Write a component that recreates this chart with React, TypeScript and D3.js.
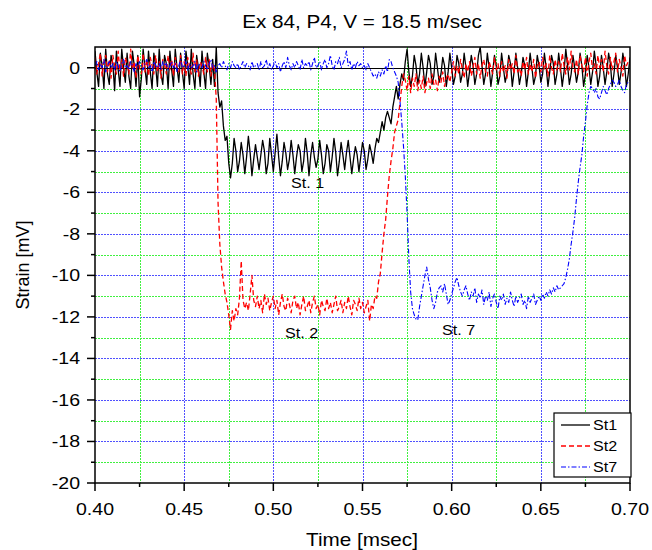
import React from "react";
import * as d3 from "d3";

// time sampling of the recorded traces (msec)
const T0 = 0.4;
const DT = 0.001;

const st1 = [
  0.8,-0.2,-0.9,0.7,0.1,-1.0,0.9,-0.3,-0.8,0.6,0.2,-1.1,
  0.8,-0.1,-0.9,0.9,0.0,-0.7,0.7,-0.4,-1.0,0.8,0.1,-0.9,
  0.6,-1.4,-0.5,0.9,0.0,-0.8,0.8,-0.2,-1.0,0.7,0.1,-0.9,
  0.9,-0.3,-0.8,0.6,0.2,-1.0,0.8,-0.1,-0.9,0.9,0.0,-0.7,
  0.7,-0.2,-1.0,0.8,0.1,-0.8,0.9,-0.3,-1.0,0.6,0.0,-0.9,
  0.8,-0.2,-1.0,0.7,0.1,-0.8,0.4,-0.9,
  1.0,-1.2,-1.9,-1.6,-2.8,-3.5,-3.3,-4.6,
  -5.3,-4.6,-3.4,-4.0,-5.0,-4.5,-3.6,-4.2,-5.1,-4.3,-3.3,-4.1,
  -5.2,-4.4,-3.7,-4.3,-4.9,-4.2,-3.5,-4.0,-5.1,-4.6,-3.4,-4.2,
  -5.0,-4.1,-3.2,-4.3,-5.2,-4.5,-3.6,-4.1,-4.9,-4.4,-3.5,-4.2,
  -5.1,-4.3,-3.7,-4.0,-5.0,-4.5,-3.4,-4.1,-5.2,-4.2,-3.6,-4.3,
  -4.8,-4.4,-3.5,-4.2,-5.1,-4.6,-3.7,-4.0,-5.0,-4.3,-3.4,-4.1,
  -5.2,-4.5,-3.6,-4.2,-4.9,-4.1,-3.5,-4.3,-5.1,-4.4,-3.8,-4.2,
  -5.0,-4.3,-3.6,-4.0,-4.9,-4.4,-3.7,-4.1,
  -4.6,-3.9,-3.4,-3.6,-3.1,-2.6,-3.0,-2.4,-2.1,-2.4,
  -2.7,-1.9,-1.4,-0.9,-1.5,-0.8,-0.3,-0.6,0.3,0.9,
  -0.2,-0.9,-0.4,0.6,0.1,-0.8,-0.3,0.7,0.0,-0.9,-0.2,0.6,
  0.2,-0.8,-0.4,0.7,0.0,-0.7,-0.3,0.5,0.1,-0.9,-0.2,0.7,
  0.0,-0.8,-0.4,0.6,0.2,-0.7,-0.3,0.7,0.0,-0.9,-0.2,0.6,
  0.1,-0.8,-0.3,0.6,1.0,0.1,-0.8,-0.3,0.7,0.0,-0.9,-0.2,
  0.6,0.1,-0.8,-0.4,0.7,0.0,-0.7,-0.3,0.6,0.2,-0.9,-0.2,
  0.7,0.0,-0.8,-0.3,0.5,0.1,-0.9,-0.2,0.7,0.0,-0.8,-0.4,
  0.6,0.1,-0.7,-0.3,0.7,0.0,-0.9,-0.2,0.6,0.2,-0.8,-0.3,
  0.7,0.0,-0.9,-0.2,0.9,0.1,-0.8,-0.3,0.6,0.0,-0.7,-0.2,
  0.7,0.1,-0.9,-0.3,0.6,0.0,-0.8,-0.2,0.8,0.1,-0.9,-0.4,
  0.6,0.0,-0.8,-0.2,0.7,0.2,-0.9,-0.3,0.6,0.0,-0.8,-0.2,
  0.7,0.1,-0.9,-0.3,0.5,
];

const st2 = [
  0.5,-0.3,0.2,0.7,-0.4,0.3,0.6,-0.2,0.4,-0.5,
  0.6,0.1,-0.3,0.8,-0.2,0.4,-0.4,0.5,0.2,-0.3,
  0.9,-0.1,0.3,-0.5,0.6,0.0,-0.3,0.7,-0.2,0.4,
  -0.4,0.5,0.1,-0.3,0.6,-0.2,0.3,-0.5,0.4,0.2,
  -0.3,0.6,-0.1,0.4,-0.4,0.5,0.0,-0.2,0.6,-0.3,
  0.3,-0.4,0.5,0.1,-0.3,0.7,-0.2,0.4,-0.4,0.3,
  0.1,-0.3,0.5,-0.2,0.4,-0.4,0.2,-0.1,
  -1.5,-6.5,-8.5,-9.6,-10.3,-10.9,-11.3,-11.9,
  -12.6,-11.7,-12.2,-11.6,-11.9,-11.1,-9.3,-11.2,-11.6,-11.3,-11.7,-10.9,-10.0,-11.2,
  -11.5,-11.0,-11.6,-11.2,-11.8,-10.9,-11.4,-11.1,-11.7,-11.3,
  -11.0,-11.6,-11.2,-11.9,-11.3,-10.9,-11.5,-11.7,-11.1,-11.4,
  -11.8,-11.2,-11.0,-11.6,-11.3,-11.9,-11.4,-11.0,-11.7,-11.5,
  -11.2,-11.8,-11.3,-11.0,-11.6,-11.4,-11.9,-11.2,-11.5,-11.7,
  -11.1,-11.6,-11.3,-11.8,-11.4,-11.0,-11.7,-11.5,-11.2,-11.8,
  -11.3,-11.6,-11.0,-11.5,-11.9,-11.2,-11.4,-11.7,-11.1,-11.6,
  -11.3,-11.8,-11.5,-11.2,-12.2,-11.4,
  -11.6,-11.0,-11.1,-10.3,-9.9,-8.9,-8.0,-7.3,-6.2,-5.2,
  -4.5,-3.9,-3.1,-2.8,-2.5,-1.7,-0.9,-0.3,-0.6,-1.1,
  -0.4,-1.2,-0.5,-0.9,-0.3,-1.1,-0.6,-1.0,-0.4,-1.2,-0.7,-0.5,
  -1.0,-0.3,-0.8,-0.6,-1.1,-0.4,-0.7,-0.2,-0.9,-0.5,-0.3,-0.7,
  -0.2,0.3,-0.4,0.1,-0.3,0.4,-0.1,-0.5,0.2,-0.2,
  0.3,-0.4,0.0,0.5,-0.3,0.2,-0.5,0.1,0.4,-0.2,
  -0.4,0.3,0.0,-0.3,0.5,-0.1,0.2,-0.4,0.3,-0.2,
  0.1,-0.5,0.4,-0.1,0.2,-0.3,0.6,-0.2,0.0,-0.4,
  0.3,-0.1,0.5,-0.3,0.2,-0.2,0.4,-0.5,0.1,0.3,
  -0.2,0.5,-0.1,0.2,-0.4,0.6,0.0,-0.3,0.4,-0.1,
  0.3,-0.2,0.7,0.1,-0.3,0.5,-0.1,0.8,0.0,-0.2,
  0.4,-0.3,0.6,0.1,-0.2,0.5,-0.4,0.3,0.7,-0.1,
  0.2,-0.3,0.6,0.0,0.4,-0.2,0.8,0.1,-0.3,0.5,
  -0.1,0.3,0.7,-0.2,0.4,0.0,-0.4,0.6,0.1,0.3,0.2,
];

const st7 = [
  0.1,0.3,-0.1,0.2,0.0,0.4,-0.2,0.1,0.3,0.0,
  0.2,-0.1,0.3,0.1,-0.2,0.2,0.4,0.0,0.1,-0.1,
  0.3,0.1,-0.2,0.2,0.0,0.3,0.1,-0.1,0.2,0.4,
  0.0,0.1,-0.2,0.3,0.1,0.0,0.2,-0.1,0.3,0.1,
  0.2,-0.1,0.1,0.3,0.0,0.2,-0.2,0.1,0.4,0.0,
  0.1,0.3,-0.1,0.2,0.0,0.1,0.3,-0.2,0.2,0.1,
  0.0,0.3,0.1,-0.1,0.2,0.4,0.0,0.1,-0.2,0.1,
  0.2,0.0,0.3,0.1,-0.1,0.2,0.0,0.3,0.1,0.0,
  0.2,-0.1,0.1,0.3,0.0,0.2,0.1,-0.1,0.3,0.0,
  0.1,0.2,-0.1,0.3,0.0,0.1,0.4,0.0,0.2,-0.1,
  0.1,0.3,0.0,0.2,-0.2,0.1,0.3,0.0,0.5,0.1,
  -0.1,0.2,0.0,0.3,0.1,-0.1,0.4,0.0,0.2,0.1,
  0.3,-0.1,0.2,0.5,0.0,0.1,0.3,-0.1,0.2,0.4,
  0.0,0.2,0.6,0.1,-0.1,0.3,0.2,0.5,0.0,0.2,
  0.4,0.8,0.1,0.3,-0.1,0.2,0.0,0.3,0.1,0.2,
  0.0,0.1,-0.1,0.2,0.0,-0.2,-0.4,-0.3,-0.5,-0.2,
  -0.4,-0.1,-0.3,0.1,-0.2,0.4,0.3,0.0,-0.2,-0.4,
  -0.7,-1.6,-2.6,-3.8,-5.2,-7.0,-9.2,-10.8,-11.6,-11.9,
  -12.1,-12.15,-11.5,-11.0,-10.5,-10.0,-9.6,-10.2,-10.6,-11.2,
  -11.6,-11.3,-10.8,-10.6,-10.5,-10.8,-10.4,-10.9,-11.4,-11.2,
  -10.9,-10.6,-10.3,-10.1,-10.5,-10.8,-11.0,-10.7,-10.5,-10.9,
  -11.2,-10.8,-11.0,-10.6,-11.3,-10.9,-11.1,-10.7,-11.4,-11.0,
  -11.2,-10.8,-11.5,-11.1,-10.9,-11.3,-11.6,-11.0,-11.2,-10.9,
  -11.4,-11.1,-11.3,-10.8,-11.2,-11.5,-11.0,-11.3,-11.1,-10.9,
  -11.4,-11.2,-11.6,-11.0,-11.3,-11.1,-10.9,-11.4,-11.2,-11.0,
  -11.2,-10.9,-11.1,-10.8,-11.0,-10.7,-10.9,-10.6,-10.8,-10.5,
  -10.7,-10.6,-10.5,-10.4,-10.1,-9.7,-9.2,-8.5,-7.9,-7.2,
  -6.3,-5.5,-4.8,-4.2,-3.3,-2.6,-1.8,-1.2,-0.9,-1.0,
  -1.2,-1.0,-1.4,-1.5,-1.2,-0.9,-1.1,-1.3,-1.0,-0.8,
  -0.6,-0.7,-0.9,-0.8,-0.6,-0.9,-1.1,-1.2,-0.8,-0.7,-0.6,
];

const xTicks = [0.4, 0.45, 0.5, 0.55, 0.6, 0.65, 0.7];
const xMinor = [0.425, 0.475, 0.525, 0.575, 0.625, 0.675];
const yTicks = [-20, -18, -16, -14, -12, -10, -8, -6, -4, -2, 0];
const yMinor = [-19, -17, -15, -13, -11, -9, -7, -5, -3, -1];

const seriesNames = ["St1", "St2", "St7"];
const seriesColors = ["#000000", "#ff0000", "#0000ff"];
const seriesDash = ["none", "5,3", "5,2,1.5,2"];
const seriesWidth = [1.3, 1.3, 1.1];

const FONT = "'Liberation Sans', Arial, Helvetica, sans-serif";
const SX = 1.15;

function T({ x, y, size, anchor = "start", children }: any) {
  return (
    <text
      transform={`translate(${x},${y}) scale(${SX},1)`}
      fontSize={size}
      fontFamily={FONT}
      textAnchor={anchor}
      fill="#000"
    >
      {children}
    </text>
  );
}

const snap = (v: number) => Math.round(v) + 0.5;

export default function App() {
  const W = 652, H = 550;
  const L = 95, R = 630, TOP = 47, B = 483;
  const x = d3.scaleLinear().domain([0.4, 0.7]).range([L, R]);
  const y = d3.scaleLinear().domain([-20, 1]).range([B, TOP]);

  const allSeries = [st1, st2, st7];
  const line = d3
    .line<number>()
    .x((_, i) => x(T0 + i * DT))
    .y((d) => y(d));

  const gridBlue = "#5050ff";
  const gridGreen = "#40f040";
  const gdash = "2,1";

  return (
    <svg
      width={W}
      height={H}
      style={{ position: "absolute", left: 0, top: 0, background: "#fff" }}
    >
      <rect x={0} y={0} width={W} height={H} fill="#fff" />
      <defs>
        <clipPath id="plot">
          <rect x={L} y={TOP} width={R - L} height={B - TOP} />
        </clipPath>
      </defs>

      {/* grid */}
      <g>
        {yMinor.map((v) => (
          <line key={"gym" + v} x1={L} x2={R} y1={snap(y(v))} y2={snap(y(v))} stroke={gridGreen} strokeWidth={1} strokeDasharray={gdash} />
        ))}
        {yTicks.filter((v) => v !== 0 && v !== -20).map((v) => (
          <line key={"gy" + v} x1={L} x2={R} y1={snap(y(v))} y2={snap(y(v))} stroke={gridBlue} strokeWidth={1} strokeDasharray={gdash} />
        ))}
        {xMinor.map((v) => (
          <line key={"gxm" + v} x1={snap(x(v))} x2={snap(x(v))} y1={TOP} y2={B} stroke={gridGreen} strokeWidth={1} strokeDasharray={gdash} />
        ))}
        {xTicks.filter((v) => v !== 0.4 && v !== 0.7).map((v) => (
          <line key={"gx" + v} x1={snap(x(v))} x2={snap(x(v))} y1={TOP} y2={B} stroke={gridBlue} strokeWidth={1} strokeDasharray={gdash} />
        ))}
      </g>
      {/* zero line */}
      <line x1={L} x2={R} y1={snap(y(0))} y2={snap(y(0))} stroke="#000" strokeWidth={1.2} />

      {/* traces */}
      <g clipPath="url(#plot)">
        {allSeries.map((s, k) => (
          <path
            key={seriesNames[k]}
            d={line(s) || ""}
            fill="none"
            stroke={seriesColors[k]}
            strokeWidth={seriesWidth[k]}
            strokeDasharray={seriesDash[k]}
            strokeLinejoin="round"
          />
        ))}
      </g>

      {/* frame */}
      <rect x={L} y={TOP} width={R - L} height={B - TOP} fill="none" stroke="#000" strokeWidth={1.5} />

      {/* y axis ticks */}
      {yTicks.map((v) => (
        <g key={"yt" + v}>
          <line x1={L - 8} x2={L} y1={y(v)} y2={y(v)} stroke="#000" strokeWidth={1.5} />
          <T x={80} y={y(v) + 6} size={17} anchor="end">{String(v)}</T>
        </g>
      ))}
      {yMinor.map((v) => (
        <line key={"ymt" + v} x1={L - 4} x2={L} y1={y(v)} y2={y(v)} stroke="#000" strokeWidth={1.5} />
      ))}

      {/* x axis ticks */}
      {xTicks.map((v) => (
        <g key={"xt" + v}>
          <line x1={x(v)} x2={x(v)} y1={B} y2={B + 8} stroke="#000" strokeWidth={1.5} />
          <T x={x(v)} y={515} size={17} anchor="middle">{v.toFixed(2)}</T>
        </g>
      ))}
      {xMinor.map((v) => (
        <line key={"xmt" + v} x1={x(v)} x2={x(v)} y1={B} y2={B + 4} stroke="#000" strokeWidth={1.5} />
      ))}

      {/* titles */}
      <T x={362} y={28} size={18} anchor="middle">Ex 84, P4, V = 18.5 m/sec</T>
      <T x={362} y={546} size={18} anchor="middle">Time [msec]</T>
      <text
        transform={`translate(29,265) rotate(-90)`}
        fontSize={18}
        fontFamily={FONT}
        textAnchor="middle"
        fill="#000"
      >
        Strain [mV]
      </text>

      {/* annotations */}
      <T x={291} y={188} size={14}>St. 1</T>
      <T x={285} y={338} size={14}>St. 2</T>
      <T x={442} y={335} size={14}>St. 7</T>

      {/* legend */}
      <rect x={554} y={413} width={77} height={64} fill="#fff" stroke="#000" strokeWidth={1.2} />
      {seriesNames.map((n, k) => (
        <g key={"lg" + n}>
          <line
            x1={561}
            x2={590}
            y1={425 + k * 21}
            y2={425 + k * 21}
            stroke={seriesColors[k]}
            strokeWidth={seriesWidth[k]}
            strokeDasharray={seriesDash[k]}
          />
          <T x={593} y={430 + k * 21} size={14}>{n}</T>
        </g>
      ))}
    </svg>
  );
}
